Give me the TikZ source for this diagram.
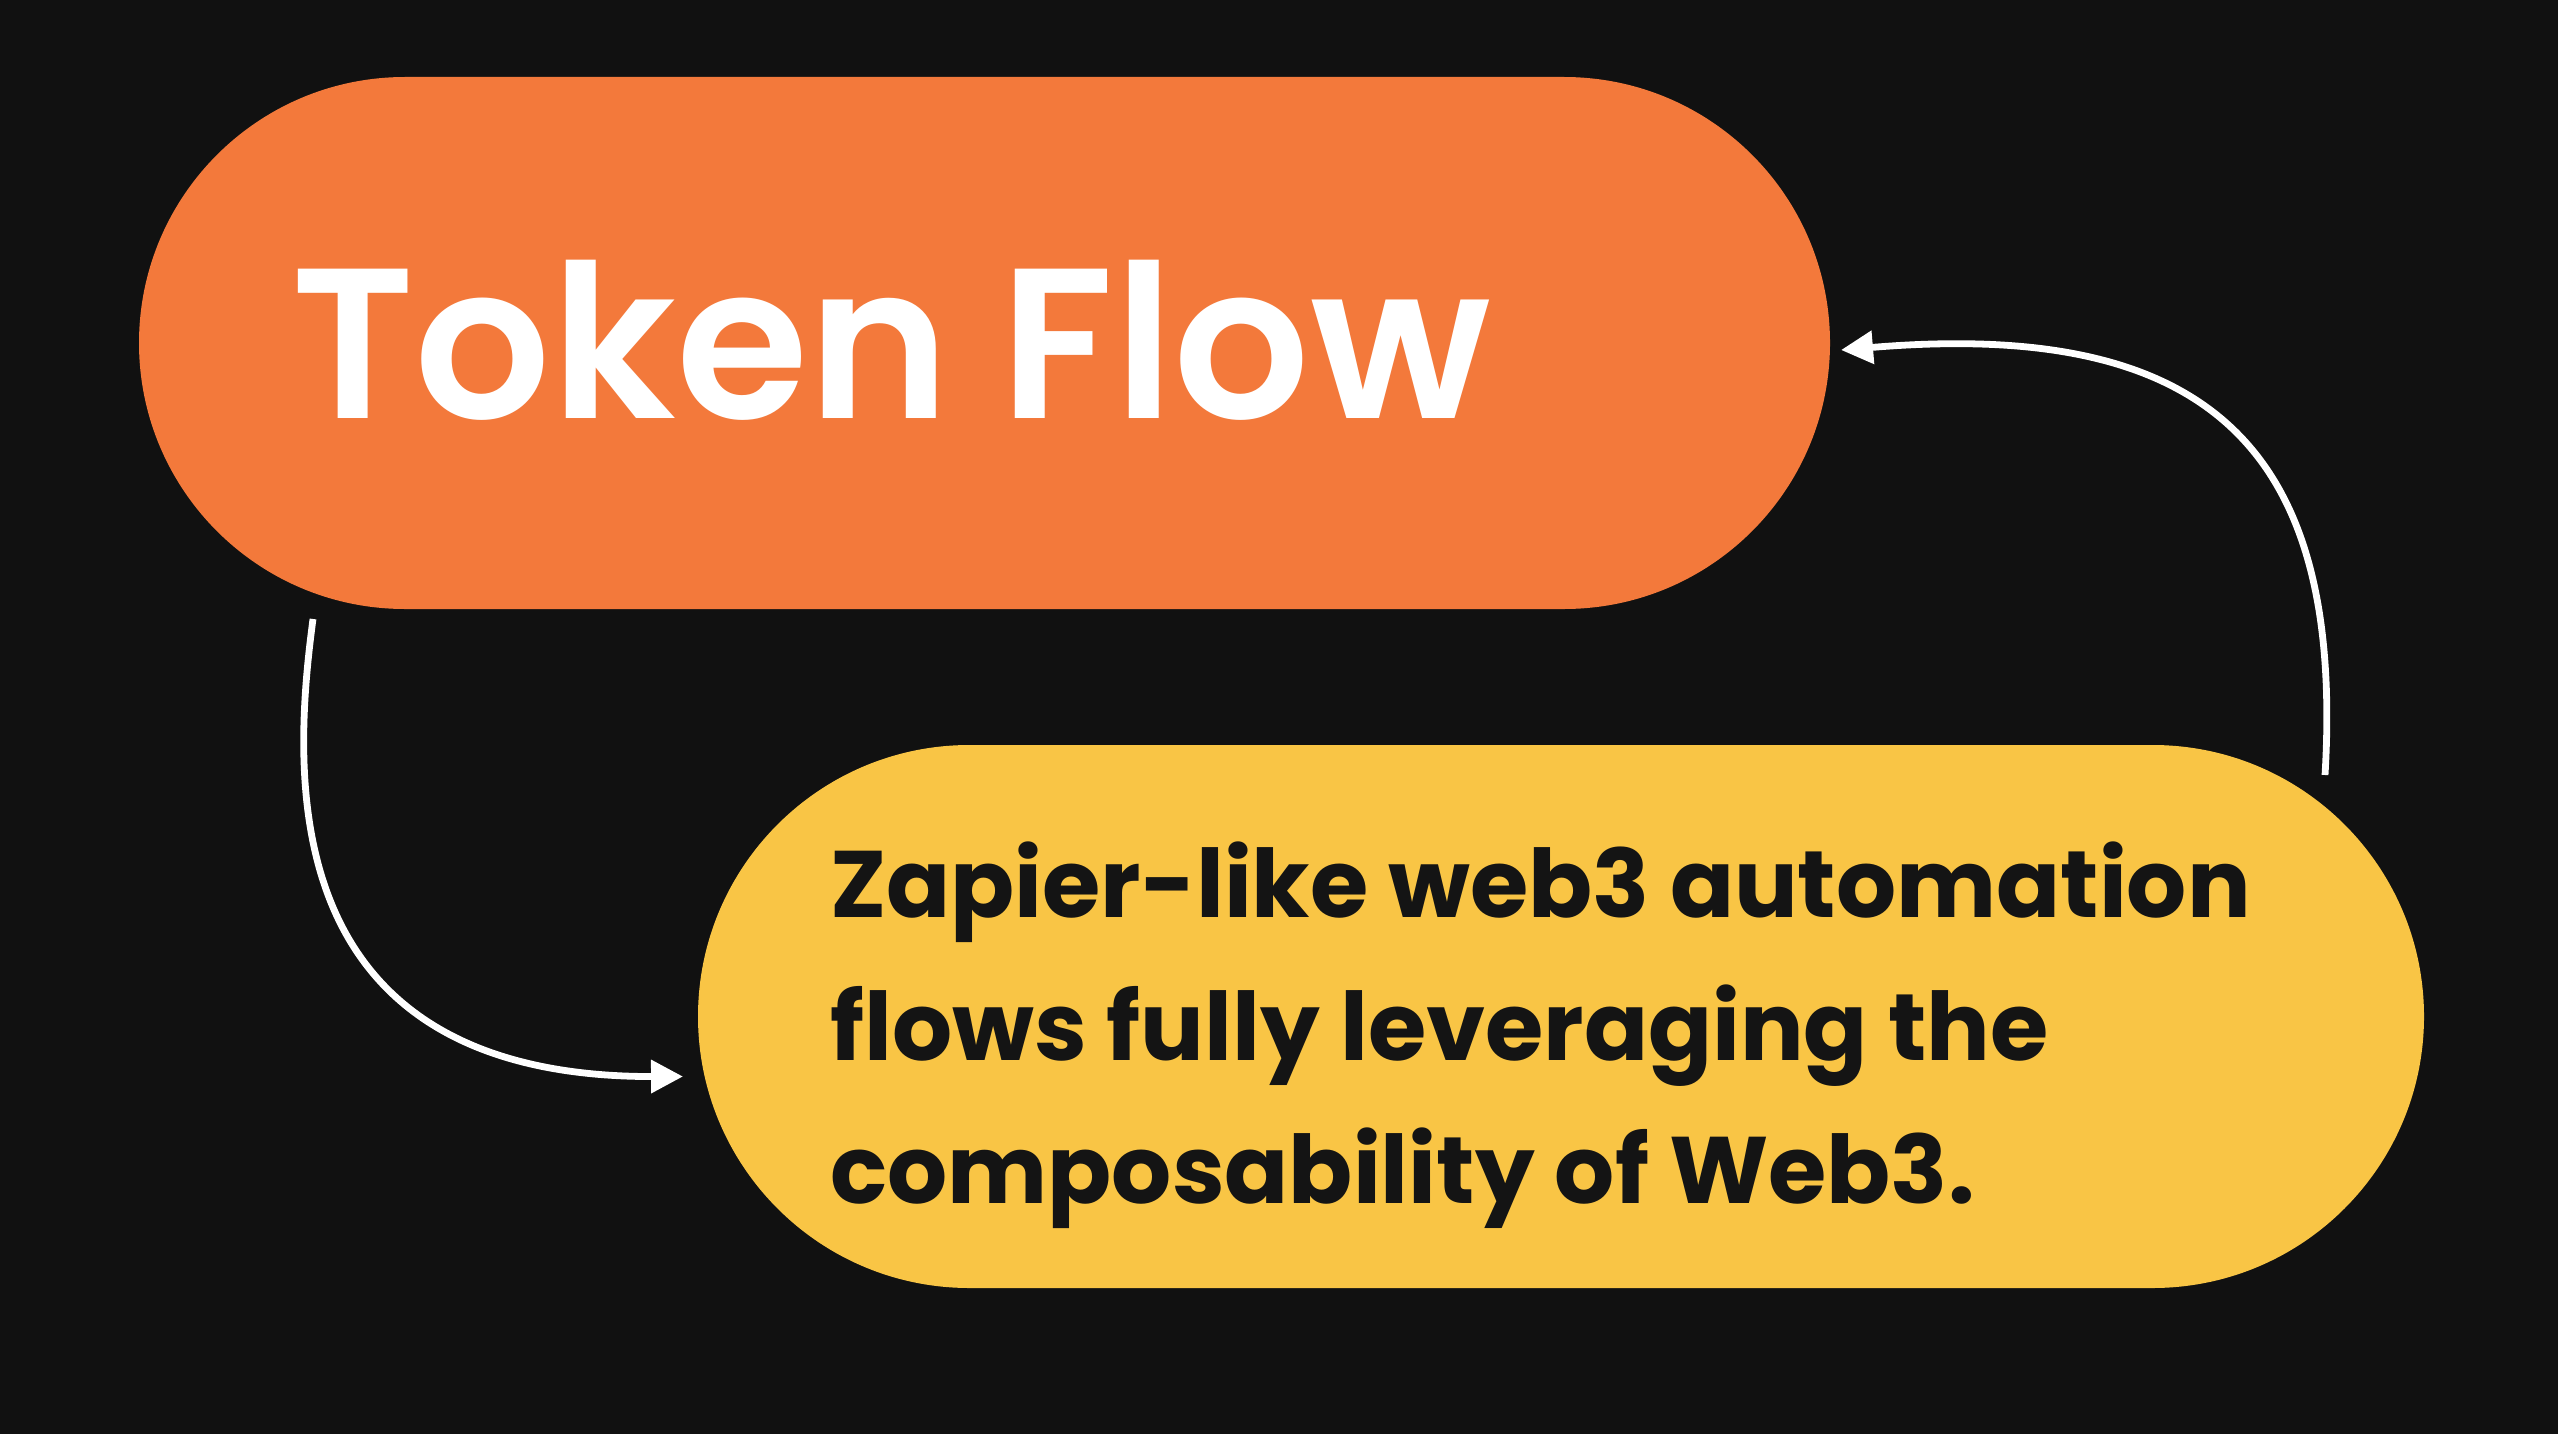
\documentclass[tikz,border=0pt]{standalone}
\usepackage{fontspec}
\setmainfont{Poppins}
\newfontfamily\titlefont{Poppins SemiBold}
\usetikzlibrary{arrows.meta}

\definecolor{bg}{HTML}{111111}
\definecolor{tforange}{HTML}{F3793B}
\definecolor{tfyellow}{HTML}{F9C545}
\definecolor{ink}{HTML}{141414}

\begin{document}
\begin{tikzpicture}[x=1pt,y=-1pt,
  pillbox/.style={rectangle,inner sep=0pt,outer sep=0pt},
  titletext/.style={inner sep=0pt,anchor=base west,text=white,
    font=\titlefont\fontsize{214}{258}\selectfont},
  bodytext/.style={inner sep=0pt,anchor=base west,text=ink,align=left,
    font=\fontsize{94.5}{143}\selectfont\bfseries},
  flow/.style={draw=white,line width=6.8pt,
    -{Triangle[length=32pt,width=32pt]}}]
  \fill[bg] (0,0) rectangle (2558,1434);
  \useasboundingbox (0,0) rectangle (2558,1434);

  % the two pill shaped boxes
  \node[pillbox,fill=tforange,rounded corners=266pt,
        minimum width=1691pt,minimum height=532pt] (tok) at (984.5,343) {};
  \node[pillbox,fill=tfyellow,rounded corners=271.5pt,
        minimum width=1726pt,minimum height=543pt] (zap) at (1561,1016.5) {};

  % texts
  \node[titletext] (title) at (291,418) {Token Flow};
  \node[bodytext] (desc) at (830,1203) {Zapier-like web3 automation\\flows fully leveraging the\\composability of Web3.};

  % connectors
  \coordinate (a1) at ([shift={(174,10)}]tok.south west);
  \coordinate (a2) at ([shift={(-15,60)}]zap.west);
  \draw[flow] (a1) .. controls (293,770) and (270,1077) .. (a2);
  \coordinate (b1) at ([shift={(-99,30)}]zap.north east);
  \coordinate (b2) at ([shift={(11,7)}]tok.east);
  \draw[flow] (b1) .. controls (2345,440) and (2200,320) .. (b2);
\end{tikzpicture}
\end{document}
